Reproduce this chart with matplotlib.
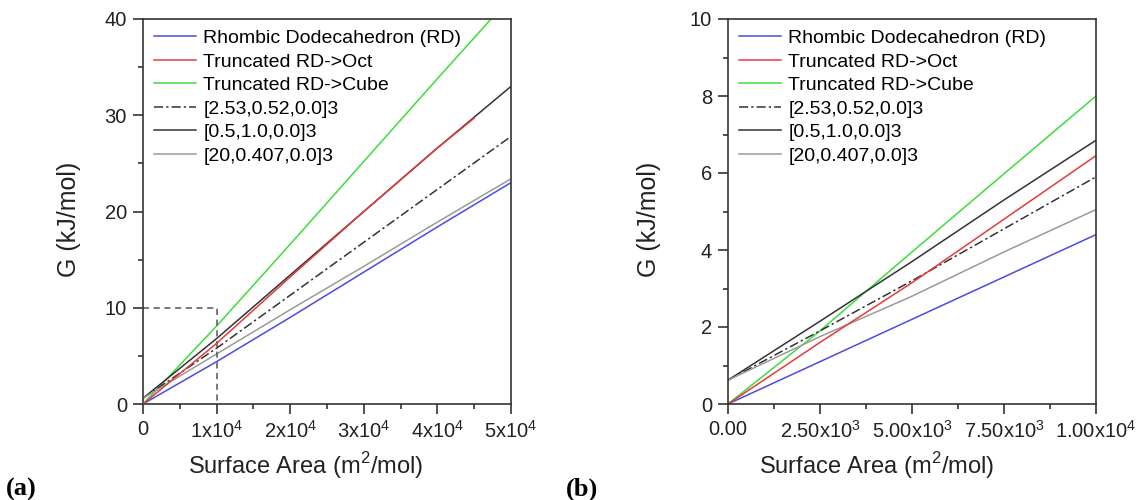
import numpy as np
import matplotlib.pyplot as plt

plt.rcParams['font.family'] = ['Liberation Sans', 'DejaVu Sans']
plt.rcParams['mathtext.fontset'] = 'custom'
plt.rcParams['mathtext.rm'] = 'Liberation Sans'

labels = ["Rhombic Dodecahedron (RD)", "Truncated RD->Oct", "Truncated RD->Cube",
          "[2.53,0.52,0.0]3", "[0.5,1.0,0.0]3", "[20,0.407,0.0]3"]

# panel (a) values
xa = [0, 1e4, 2e4, 3e4, 4e4, 5e4]
xa_red = [0, 1e4, 2e4, 3e4, 4e4, 4.5e4]
a_rd = [0, 4.4, 9.0, 13.7, 18.4, 23.0]
a_oct = [0, 6.3, 13.2, 20.0, 26.6, 29.7]
a_cube = [0, 8.1, 16.6, 25.2, 33.8, 42.3]
a_253 = [0.6, 5.8, 11.3, 16.8, 22.3, 27.8]
a_05 = [0.6, 6.8, 13.4, 20.0, 26.6, 33.0]
a_20 = [0.6, 5.2, 9.8, 14.3, 18.9, 23.4]

# panel (b) values
xb = [0, 2.5e3, 5e3, 7.5e3, 1e4]
b_rd = [0, 1.1, 2.2, 3.3, 4.4]
b_oct = [0, 1.6, 3.15, 4.8, 6.45]
b_cube = [0, 1.9, 3.95, 5.98, 8.0]
b_253 = [0.62, 1.9, 3.2, 4.55, 5.9]
b_05 = [0.62, 2.15, 3.7, 5.3, 6.85]
b_20 = [0.62, 1.75, 2.8, 3.95, 5.05]

cols = ['#4a4ae8', '#e83a3a', '#3ddc3d', '#333333', '#333333', '#9a9a9a']
styles = ['-', '-', '-', (0, (6, 2, 1.5, 2)), '-', '-']

fig = plt.figure(figsize=(11.41, 5), dpi=100)
axa = fig.add_axes([143/1141, 96/500, 368/1141, 385/500])
axb = fig.add_axes([728/1141, 96/500, 368/1141, 385/500])

ya = [a_rd, a_oct, a_cube, a_253, a_05, a_20]
yb = [b_rd, b_oct, b_cube, b_253, b_05, b_20]
order = [0, 2, 3, 4, 5, 1]  # red drawn on top of black
for i in order:
    x = xa_red if i == 1 else xa
    axa.plot(x, ya[i], color=cols[i], linestyle=styles[i], lw=1.1, label=labels[i], zorder=2 + (i == 1))
    axb.plot(xb, yb[i], color=cols[i], linestyle=styles[i], lw=1.1, label=labels[i])

# dashed zoom box
axa.plot([0, 1e4, 1e4], [10, 10, 0], color='#555555', linestyle=(0, (4, 3)), lw=1.1)

axa.set_xlim(0, 5e4)
axa.set_ylim(0, 40)
axa.set_xticks([0, 1e4, 2e4, 3e4, 4e4, 5e4])
axa.set_xticklabels(['0'] + [r'%dx10$^4$' % k for k in range(1, 6)])
axa.set_xticks(np.arange(5e3, 5e4, 1e4), minor=True)
axa.set_yticks([0, 10, 20, 30, 40])
axa.set_yticks([5, 15, 25, 35], minor=True)

axb.set_xlim(0, 1e4)
axb.set_ylim(0, 10)
axb.set_xticks([0, 2.5e3, 5e3, 7.5e3, 1e4])
axb.set_xticklabels(['0.00', r'2.50x10$^3$', r'5.00x10$^3$', r'7.50x10$^3$', r'1.00x10$^4$'])
axb.set_xticks(np.arange(1.25e3, 1e4, 2.5e3), minor=True)
axb.set_yticks([0, 2, 4, 6, 8, 10])
axb.set_yticks([1, 3, 5, 7, 9], minor=True)

for ax, xl, yl in ((axa, 0.443, -0.201), (axb, 0.405, -0.215)):
    for s in ax.spines.values():
        s.set_color('#333333')
        s.set_linewidth(1.2)
    ax.tick_params(which='both', direction='out', top=False, right=False, colors='#333333',
                   labelsize=14.5, labelcolor='#222222')
    ax.tick_params(which='major', length=7, width=1.2, pad=4.5)
    ax.tick_params(which='minor', length=3.5, width=1.2)
    ax.set_xlabel(r'Surface Area (m$^2$/mol)', fontsize=17, color='#222222', va='center')
    ax.set_ylabel('G (kJ/mol)', fontsize=18, color='#222222', va='center')
    ax.xaxis.set_label_coords(xl, -0.161)
    ax.yaxis.set_label_coords(yl, 0.48)
    h, l = ax.get_legend_handles_labels()
    idx = [l.index(t) for t in labels]
    ax.legend([h[k] for k in idx], [l[k] for k in idx], loc='upper left', frameon=False,
              fontsize=14, handlelength=2.15, handletextpad=0.4, labelspacing=0.3,
              borderaxespad=0.3, borderpad=0.25)

fig.text(6/1141, 4/500, '(a)', fontsize=19, fontweight='bold', family='Liberation Serif')
fig.text(566/1141, 4/500, '(b)', fontsize=19, fontweight='bold', family='Liberation Serif')

fig.savefig('out.png', dpi=100)
